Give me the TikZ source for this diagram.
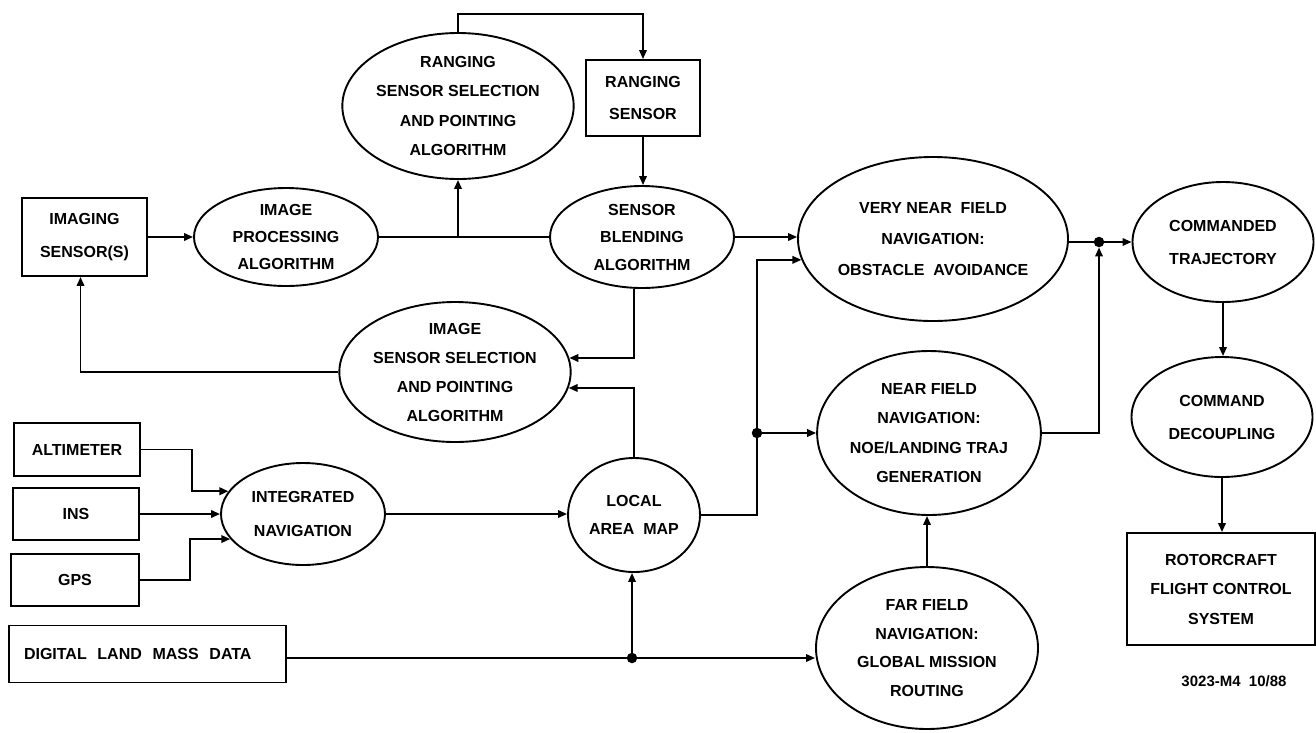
\documentclass[tikz,border=0pt]{standalone}
\usepackage{fontspec}
\setmainfont{Liberation Sans}
\usetikzlibrary{shapes.geometric,arrows.meta,calc}
\tikzset{
  ls/.style={font=\fontsize{16}{#1}\selectfont\bfseries},
  ell/.style={ellipse, draw, line width=1.9pt, inner sep=0pt, align=center},
  box/.style={rectangle, draw, line width=1.9pt, inner sep=0pt, align=center},
  arr/.style={-{Triangle[length=9pt,width=7.5pt]}, line width=1.9pt},
  con/.style={line width=1.9pt},
  dot/.style={circle, fill, inner sep=0pt, minimum size=10.5pt},
}
\begin{document}
\begin{tikzpicture}[x=1pt,y=-1pt]
\useasboundingbox (0,0) rectangle (1316,732);
% nodes
\node[box, minimum width=125pt, minimum height=78pt, ls=33] (imgsens) at (84.5,237) {IMAGING\\SENSOR(S)};
\node[ell, minimum width=184pt, minimum height=98pt, ls=27] (imgproc) at (286,237) {IMAGE\\PROCESSING\\ALGORITHM};
\node[ell, minimum width=228pt, minimum height=146pt, ls=29.5] (rss) at (458,106) {RANGING\\SENSOR SELECTION\\AND POINTING\\ALGORITHM};
\node[box, minimum width=114pt, minimum height=76pt, ls=32] (rsens) at (643,98) {RANGING\\SENSOR};
\node[ell, minimum width=184pt, minimum height=102pt, ls=27.5] (blend) at (642,237) {SENSOR\\BLENDING\\ALGORITHM};
\node[ell, minimum width=227pt, minimum height=140pt, ls=29] (iss) at (455,372) {IMAGE\\SENSOR SELECTION\\AND POINTING\\ALGORITHM};
\node[ell, minimum width=270pt, minimum height=164pt, ls=31] (vnf) at (933,239) {VERY NEAR\ \ FIELD\\NAVIGATION:\\OBSTACLE\ \ AVOIDANCE};
\node[ell, minimum width=181pt, minimum height=120pt, ls=33] (cmdtraj) at (1223,242) {COMMANDED\\TRAJECTORY};
\node[ell, minimum width=221pt, minimum height=164pt, ls=29.3] (nf) at (929,433) {NEAR FIELD\\NAVIGATION:\\NOE/LANDING TRAJ\\GENERATION};
\node[ell, minimum width=181pt, minimum height=120pt, ls=33] (cmddec) at (1222,417) {COMMAND\\DECOUPLING};
\node[box, minimum width=126pt, minimum height=53pt, ls=20] (alt) at (77,449.5) {ALTIMETER};
\node[box, minimum width=126pt, minimum height=52pt, ls=20] (ins) at (76,514) {INS};
\node[box, minimum width=128pt, minimum height=52pt, ls=20] (gps) at (75,580) {GPS};
\node[ell, minimum width=164pt, minimum height=102pt, ls=34] (intnav) at (303,514) {INTEGRATED\\NAVIGATION};
\node[ell, minimum width=132pt, minimum height=114pt, ls=28] (lam) at (634,515) {LOCAL\\AREA\ \ MAP};
\node[box, minimum width=277pt, minimum height=57pt, text width=247pt, inner xsep=15pt, align=left, ls=20] (dlmd) at (147.5,654) {DIGITAL\ \ LAND\ \ MASS\ \ DATA};
\node[ell, minimum width=222pt, minimum height=162pt, ls=28.7] (ff) at (927,648) {FAR FIELD\\NAVIGATION:\\GLOBAL MISSION\\ROUTING};
\node[box, minimum width=188pt, minimum height=112pt, ls=29.5] (rfcs) at (1221,589) {ROTORCRAFT\\FLIGHT CONTROL\\SYSTEM};
\node[font=\fontsize{15}{18}\selectfont\bfseries] (tag) at (1234,681) {3023-M4\ \ 10/88};
% junctions
\node[dot] (jn) at (757,433) {};
\node[dot] (jc) at (1099,242) {};
\node[dot] (jd) at (632,658) {};
\coordinate (j1) at (rss.south |- imgproc.east);
\coordinate (tp) at (458,14);
% connectors
\draw[arr] (imgsens.east) -- (imgproc.west);
\draw[con] (imgproc.east) -- (blend.west);
\draw[arr] (j1) -- (rss.south);
\draw[arr] (rss.north) -- (rss.north |- tp) -| (rsens.north);
\draw[arr] (rsens.south) -- (rsens.south |- blend.north);
\draw[arr] ($(blend.south)+(-8,0)$) |- (iss.7);
\draw[arr] (lam.north) |- (iss.-8);
\draw[arr] (iss.west) -| ($(imgsens.south)+(-4,0)$);
\draw[arr] (blend.east) -- (blend.east -| vnf.west);
\draw[con] (lam.east) -| (jn);
\draw[arr] (jn) |- (vnf.189);
\draw[arr] (jn) -- (nf.west);
\draw[arr] (ff.north) -- (ff.north |- nf.south);
\draw[con] (dlmd.east |- jd) -- (jd);
\draw[arr] (jd) -- (jd -| ff.west);
\draw[arr] (jd) -- (jd |- lam.south);
\draw[arr] (vnf.east |- cmdtraj.west) -- (cmdtraj.west);
\draw[arr] (nf.east) -| (jc);
\draw[arr] (cmdtraj.south) -- (cmdtraj.south |- cmddec.north);
\draw[arr] (cmddec.south) -- (cmddec.south |- rfcs.north);
\draw[arr] (alt.east) -- ++(51,0) |- (intnav.163);
\draw[arr] (ins.east) -- (intnav.west);
\draw[arr] (gps.east) -- ++(50,0) |- (intnav.199);
\draw[arr] (intnav.east) -- (intnav.east -| lam.west);
\end{tikzpicture}
\end{document}
